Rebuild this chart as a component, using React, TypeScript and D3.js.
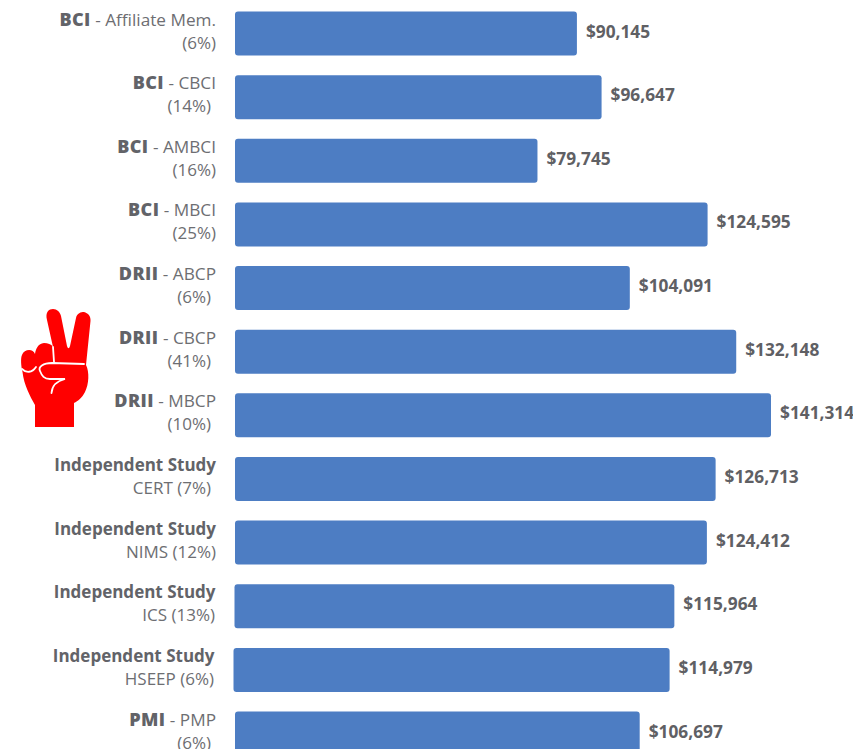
import React from "react";
import * as d3 from "d3";

const orgs = ["BCI", "BCI", "BCI", "BCI", "DRII", "DRII", "DRII", "Independent Study", "Independent Study", "Independent Study", "Independent Study", "PMI"];
const certs = ["Affiliate Mem.", "CBCI", "AMBCI", "MBCI", "ABCP", "CBCP", "MBCP", "CERT", "NIMS", "ICS", "HSEEP", "PMP"];
const shares = [6, 14, 16, 25, 6, 41, 10, 7, 12, 13, 6, 6];
const salaries = [90145, 96647, 79745, 124595, 104091, 132148, 141314, 126713, 124412, 115964, 114979, 106697];

const rowShift = [0, 0, 0, 0, 0, 0, 0, 0, 0, -0.5, -1.5, 0];
const secondLineEnd = [216, 211, 216, 216, 211, 211, 211, 211, 216, 215, 214, 211];

const FONT = "'Open Sans', Lato, sans-serif";
const W = 853, H = 749;

export default function App() {
  const x = d3.scaleLinear().domain([0, 141314]).range([0, 536]);
  const y = d3.scaleBand<number>().domain(d3.range(0, 12)).range([11.5, 11.5 + 63.64 * 11 + 44]).paddingInner(0.3086).paddingOuter(0);
  const fmt = d3.format("$,");
  const x0 = 235;
  return (
    <svg width={W} height={H} viewBox={`0 0 ${W} ${H}`} style={{ position: "fixed", left: 0, top: 0, background: "#fff" }} fontFamily={FONT}>
      {salaries.map((v, i) => {
        const top = y(i)!;
        const cy = top + y.bandwidth() / 2;
        const two = orgs[i] === "Independent Study";
        const end = 216 + rowShift[i];
        return (
          <g key={i}>
            <rect x={x0 + rowShift[i]} y={top} width={x(v)} height={y.bandwidth()} rx={3} fill="#4d7dc3" />
            <text x={x0 + rowShift[i] + x(v) + 9} y={cy + 4} fontSize={17.3} fontWeight={700} fill="#5f6064">{fmt(v)}</text>
            {two ? (
              <>
                <text x={end} y={cy - 8} textAnchor="end" fontSize={17} fontWeight={700} fill="#626368">{orgs[i]}</text>
                <text x={secondLineEnd[i]} y={cy + 15} textAnchor="end" fontSize={17} fill="#6d6e72">{`${certs[i]} (${shares[i]}%)`}</text>
              </>
            ) : (
              <>
                <text x={end} y={cy - 8} textAnchor="end" fontSize={17.2} fill="#6d6e72">
                  <tspan fontWeight={800} fontSize={18} letterSpacing={0.4} fill="#626368">{orgs[i]}</tspan>{` - ${certs[i]}`}
                </text>
                <text x={secondLineEnd[i]} y={cy + 15} textAnchor="end" fontSize={17} fill="#6d6e72">{`(${shares[i]}%)`}</text>
              </>
            )}
          </g>
        );
      })}
      <g>
        <path fill="#ff0000" d="M35 427 L35 405 C30 396 24 385 22.5 372 C21 366 20.5 358 22 355 C24 349 33 348 35 354 C36 348 38 344 44 343 C48 343 51 344 53 347 L47 320 C45 312 49 309 53 309 C57 309 60 312 61 316 L67 346 C68 349 69 349 70 346 L76 318 C77 313 81 312 84 312 C88 313 91 316 90.5 321 L86 365 C89.5 372 89 384 85 392 C82 398 78 401 74 403 L74 427 Z" />
        <path fill="none" stroke="#fff" strokeWidth={1.8} strokeLinecap="round" d="M22 369 C26 373 32 373 36 367 M53 347 L54 362 M84 364 L52 363 C43 363 38 367 40 371 C42 376 44 379 50 379 L65 379 C57 381 52 386 51.5 393" />
      </g>
    </svg>
  );
}
